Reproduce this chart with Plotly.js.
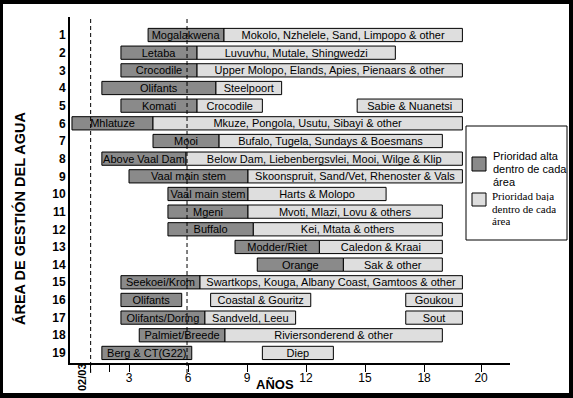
<!DOCTYPE html>
<html>
<head>
<meta charset="utf-8">
<script src="https://cdn.plot.ly/plotly-3.0.1.min.js"></script>
<style>
html,body{margin:0;padding:0;background:#000;width:573px;height:398px;overflow:hidden}
#chart{position:absolute;left:3px;top:4px;width:566px;height:389px;background:#fff}
</style>
</head>
<body>
<div id="chart"></div>
<script>
// ---- data ----
const rowNumbers = [1,2,3,4,5,6,7,8,9,10,11,12,13,14,15,16,17,18,19];
const rowLabels  = ["1","2","3","4","5","6","7","8","9","10","11","12","13","14","15","16","17","18","19"];

// high priority (dark) segments, one per row
const highNames = ["Mogalakwena","Letaba","Crocodile","Olifants","Komati","Mhlatuze","Mooi","Above Vaal Dam",
  "Vaal main stem","Vaal main stem","Mgeni","Buffalo","Modder/Riet","Orange","Seekoei/Krom","Olifants",
  "Olifants/Doring","Palmiet/Breede","Berg & CT(G22)"];
const highStart = [3.97,2.59,2.59,1.62,2.59,0.10,4.22,1.62,3.00,4.98,4.98,4.98,8.39,9.52,2.59,2.59,2.59,3.52,1.62];
const highEnd   = [7.83,6.46,6.46,7.42,6.46,4.22,7.58,5.90,9.05,9.05,9.05,9.32,12.68,13.90,6.61,5.68,6.86,7.88,6.19];

// low priority (light) segments
const lowRow = [1,2,3,4,5,5,6,7,8,9,10,11,12,13,14,15,16,16,17,17,18,19];
const lowNames = ["Mokolo, Nzhelele, Sand, Limpopo & other","Luvuvhu, Mutale, Shingwedzi",
  "Upper Molopo, Elands, Apies, Pienaars & other","Steelpoort","Crocodile","Sabie & Nuanetsi",
  "Mkuze, Pongola, Usutu, Sibayi & other","Bufalo, Tugela, Sundays & Boesmans",
  "Below Dam, Liebenbergsvlei, Mooi, Wilge & Klip","Skoonspruit, Sand/Vet, Rhenoster & Vals",
  "Harts & Molopo","Mvoti, Mlazi, Lovu & others","Kei, Mtata & others","Caledon & Kraai","Sak & other",
  "Swartkops, Kouga, Albany Coast, Gamtoos & other","Coastal & Gouritz","Goukou","Sandveld, Leeu","Sout",
  "Riviersonderend & other","Diep"];
const lowStart = [7.83,6.46,6.46,7.42,6.46,14.60,4.22,7.58,5.90,9.05,9.05,9.05,9.32,12.68,13.90,6.61,7.15,17.07,6.86,17.07,7.88,9.78];
const lowEnd   = [19.95,16.54,19.95,10.76,9.78,19.95,19.95,18.93,19.95,19.95,16.07,18.93,18.93,18.93,18.93,19.95,12.24,19.95,11.47,19.95,18.93,13.39];

// x axis ticks
const xTickVals = [1.05,2,3,6,9,12,15,18,20.9];
const xTickText = ["","","3","6","9","12","15","18","20"];
const refLines = [1.05, 5.95];   // dashed reference lines ("02/03" and year 6)

const legendHighLines = ["Prioridad alta","dentro de cada","área"];
const legendLowLines  = ["Prioridad baja","dentro de cada","área"];

// ---- layout helpers (page pixel -> paper) ----
const PL = 70, PT = 17, PW = 440, PH = 346;
const px = x => (x - PL) / PW;
const py = y => (PT + PH - y) / PH;

const DARK = "#8a8a8a", LIGHT = "#dedede";
const FONT = "Liberation Sans, Arial, sans-serif";
const SERIF = "Liberation Serif, Times New Roman, serif";

const barCommon = {
  type: "bar", orientation: "h", width: 0.75,
  textposition: "inside", insidetextanchor: "middle", constraintext: "none", textangle: 0,
  textfont: {family: FONT, size: 11, color: "#000"},
  cliponaxis: false, hoverinfo: "text", showlegend: false
};

const traces = [
  Object.assign({}, barCommon, {
    y: rowNumbers, base: highStart, x: highEnd.map((e,i) => e - highStart[i]),
    text: highNames, marker: {color: DARK, line: {color: "#000", width: 1}}
  }),
  Object.assign({}, barCommon, {
    y: lowRow, base: lowStart, x: lowEnd.map((e,i) => e - lowStart[i]),
    text: lowNames, marker: {color: LIGHT, line: {color: "#000", width: 1}}
  })
];

const shapes = refLines.map(v => ({
  type: "line", xref: "x", yref: "paper", x0: v, x1: v, y0: py(373), y1: 1,
  line: {color: "#000", width: 1, dash: "4px,3px"}, layer: "above"
}));
// legend box and swatches
shapes.push({type: "rect", xref: "paper", yref: "paper", x0: px(466), x1: px(567), y0: py(240), y1: py(126),
  line: {color: "#000", width: 1}, fillcolor: "#fff", layer: "above"});
shapes.push({type: "rect", xref: "paper", yref: "paper", x0: px(472), x1: px(486), y0: py(171), y1: py(157),
  line: {color: "#000", width: 1}, fillcolor: DARK, layer: "above"});
shapes.push({type: "rect", xref: "paper", yref: "paper", x0: px(472), x1: px(486), y0: py(206), y1: py(193),
  line: {color: "#000", width: 1}, fillcolor: LIGHT, layer: "above"});

const annotations = [
  {text: "<b>ÁREA DE GESTIÓN DEL AGUA</b>", xref: "paper", yref: "paper", x: px(19), y: py(219),
   xanchor: "center", yanchor: "middle",
   textangle: -90, showarrow: false, font: {family: FONT, size: 14.5, color: "#000"}},
  {text: "<b>AÑOS</b>", xref: "paper", yref: "paper", x: px(275), y: py(385),
   xanchor: "center", yanchor: "middle",
   showarrow: false, font: {family: FONT, size: 13, color: "#000"}},
  {text: "<b>02/03</b>", xref: "paper", yref: "paper", x: px(82), y: py(377),
   xanchor: "center", yanchor: "middle",
   textangle: -90, showarrow: false, font: {family: FONT, size: 11, color: "#000"}}
];
const highY = [156, 169, 182], lowY = [196, 208, 220];
legendHighLines.forEach((t, i) => annotations.push({
  text: t, xref: "paper", yref: "paper", x: px(491), y: py(highY[i]), xanchor: "left", yanchor: "middle",
  showarrow: false, font: {family: FONT, size: 11, color: "#000"}, height: 12
}));
legendLowLines.forEach((t, i) => annotations.push({
  text: t, xref: "paper", yref: "paper", x: px(490), y: py(lowY[i]), xanchor: "left", yanchor: "middle",
  showarrow: false, font: {family: SERIF, size: 11, color: "#000"}, height: 11
}));

const layout = {
  width: 566, height: 389,
  margin: {l: 67, r: 59, t: 13, b: 30, pad: 0},
  paper_bgcolor: "#fff", plot_bgcolor: "#fff",
  barmode: "overlay", showlegend: false,
  font: {family: FONT, color: "#000"},
  xaxis: {
    range: [0, 22.37], autorange: false, showgrid: false, zeroline: false,
    showline: true, linecolor: "#000", linewidth: 2,
    tickmode: "array", tickvals: xTickVals, ticktext: xTickText,
    ticks: "outside", ticklen: 7, tickwidth: 1, tickcolor: "#000",
    ticklabelstandoff: -4,
    tickfont: {family: FONT, size: 12, color: "#000"}
  },
  yaxis: {
    range: [19.57, -0.02], autorange: false, showgrid: false, zeroline: false,
    showline: true, linecolor: "#000", linewidth: 2,
    tickmode: "array", tickvals: rowNumbers, ticktext: rowLabels, ticks: "",
    tickfont: {family: FONT, size: 12, color: "#000", weight: "bold"}
  },
  shapes: shapes,
  annotations: annotations
};

Plotly.newPlot("chart", traces, layout, {displayModeBar: false, staticPlot: true});
</script>
</body>
</html>
